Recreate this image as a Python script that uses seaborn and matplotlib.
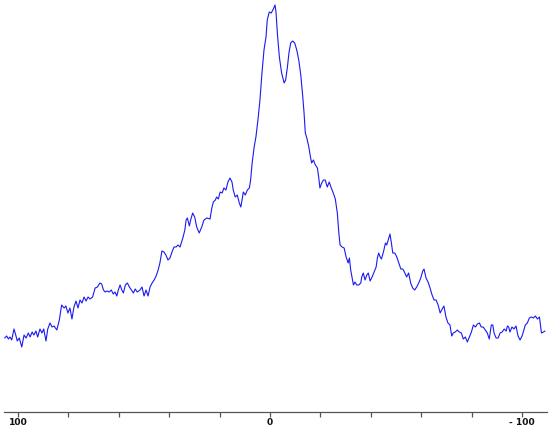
import matplotlib
matplotlib.use("Agg")
import matplotlib.pyplot as plt
import matplotlib.ticker as mticker
import seaborn as sns
import pandas as pd

# x position (data units, decreasing to the right) and intensity (arbitrary units)
shift = [
    105.3, 104.5, 103.8, 103.2, 102.5, 101.6, 100.9, 100.3, 99.5, 98.5,
    97.6, 96.8, 95.9, 95.2, 94.4, 93.7, 92.9, 92.2, 91.3, 90.5,
    89.8, 88.9, 88.2, 87.3, 86.5, 85.7, 84.6, 83.6, 82.7, 81.7,
    81.0, 80.2, 79.4, 78.6, 77.8, 77.0, 76.2, 75.4, 74.6, 73.8,
    73.0, 72.2, 71.4, 70.4, 69.4, 68.5, 67.5, 66.8, 66.1, 65.4,
    64.6, 63.8, 63.0, 62.2, 61.5, 60.8, 60.2, 59.5, 58.8, 58.2,
    57.4, 56.6, 55.8, 55.0, 54.2, 53.5, 52.7, 51.6, 50.8, 50.0,
    49.2, 48.4, 47.6, 46.8, 46.0, 45.2, 44.4, 43.7, 42.9, 42.1,
    41.3, 40.5, 39.7, 38.9, 38.1, 37.3, 36.5, 35.7, 34.6, 33.8,
    33.3, 32.8, 32.0, 31.5, 30.7, 29.9, 29.1, 28.1, 27.1, 26.2,
    25.1, 23.8, 23.1, 22.5, 21.7, 21.2, 20.5, 19.8, 19.0, 18.3,
    17.5, 16.7, 15.9, 15.1, 14.6, 13.8, 13.0, 12.2, 11.6, 11.1,
    10.6, 9.8, 9.0, 8.2, 7.7, 7.1, 6.3, 5.6, 4.8, 4.0,
    3.2, 2.4, 1.6, 1.1, 0.3, -0.5, -1.3, -2.0, -2.4, -2.9,
    -3.7, -4.6, -5.6, -6.2, -6.9, -7.5, -8.2, -9.0, -9.8, -10.6,
    -11.4, -12.2, -13.0, -13.5, -14.0, -14.6, -15.4, -15.9, -16.5, -17.2,
    -18.0, -18.8, -19.3, -19.8, -20.5, -21.2, -21.9, -22.7, -23.5, -24.3,
    -25.1, -25.9, -26.7, -27.3, -27.8, -28.6, -29.4, -30.2, -31.0, -31.5,
    -32.0, -32.5, -33.1, -33.7, -34.4, -35.2, -36.0, -36.4, -37.0, -37.7,
    -38.4, -39.0, -39.7, -40.5, -41.3, -42.1, -42.6, -43.1, -43.7, -44.2,
    -45.0, -45.8, -46.3, -46.9, -47.6, -48.1, -48.7, -49.5, -50.3, -51.1,
    -51.9, -52.7, -53.5, -54.2, -55.0, -55.8, -56.6, -57.4, -58.2, -59.0,
    -59.8, -60.6, -61.1, -61.9, -62.7, -63.5, -64.3, -65.1, -65.9, -66.7,
    -67.5, -68.3, -69.0, -69.8, -70.6, -71.4, -72.1, -72.7, -73.5, -74.3,
    -75.1, -75.9, -76.7, -77.5, -78.3, -79.1, -79.9, -80.7, -81.5, -82.3,
    -83.1, -83.8, -84.6, -85.4, -86.2, -87.0, -87.8, -88.4, -88.9, -89.7,
    -90.5, -91.3, -92.1, -92.9, -93.7, -94.2, -94.7, -95.2, -96.0, -96.8,
    -97.6, -98.4, -99.2, -100.0, -100.5, -101.3, -102.1, -102.9, -103.7, -104.5,
    -105.3, -106.1, -106.9, -107.7, -108.5, -109.1,
]
intensity = [
    75, 77, 74, 76, 73, 84, 78, 72, 75, 66,
    78, 75, 80, 76, 81, 78, 82, 76, 84, 80,
    84, 72, 84, 90, 86, 87, 83, 93, 108, 105,
    107, 100, 105, 94, 106, 112, 105, 113, 110, 116,
    112, 116, 114, 116, 125, 126, 130, 129, 123, 121,
    122, 121, 123, 119, 121, 117, 123, 128, 123, 120,
    128, 130, 126, 123, 120, 124, 121, 123, 126, 117,
    123, 117, 126, 130, 133, 137, 143, 150, 162, 161,
    158, 153, 155, 161, 166, 166, 168, 166, 175, 183,
    193, 195, 187, 193, 200, 196, 186, 180, 186, 193,
    195, 194, 205, 211, 213, 216, 214, 221, 220, 225,
    223, 231, 235, 231, 223, 216, 218, 210, 206, 213,
    221, 218, 223, 225, 233, 250, 266, 276, 293, 313,
    340, 363, 376, 393, 401, 400, 404, 408, 400, 380,
    356, 340, 330, 333, 346, 360, 370, 372, 370, 363,
    353, 338, 316, 300, 280, 275, 266, 258, 250, 253,
    248, 245, 236, 225, 230, 233, 233, 226, 231, 225,
    220, 214, 200, 180, 168, 166, 165, 156, 150, 155,
    143, 136, 128, 131, 128, 128, 130, 136, 140, 133,
    138, 140, 132, 136, 141, 146, 155, 160, 156, 154,
    161, 170, 168, 173, 179, 171, 160, 160, 156, 150,
    144, 144, 140, 136, 140, 130, 125, 123, 126, 130,
    135, 142, 144, 135, 131, 125, 118, 113, 113, 108,
    100, 104, 107, 96, 90, 88, 77, 80, 81, 83,
    81, 80, 74, 76, 71, 76, 81, 88, 86, 89,
    90, 86, 86, 83, 80, 74, 88, 88, 80, 75,
    75, 80, 81, 84, 82, 87, 86, 81, 86, 84,
    87, 77, 73, 77, 81, 88, 90, 95, 96, 95,
    97, 94, 96, 80, 81, 82,
]
major_ticks = [100, 0, -100]
major_labels = ["100", "0", "- 100"]
minor_ticks = [80, 60, 40, 20, -20, -40, -60, -80]

df = pd.DataFrame({"shift": shift, "intensity": intensity})

sns.set_style("white")
plt.rcParams["font.family"] = ["DejaVu Sans"]

fig = plt.figure(figsize=(5.5, 4.3), dpi=100)
ax = fig.add_axes([4 / 550, 18 / 430, 543 / 550, 412 / 430])

sns.lineplot(data=df, x="shift", y="intensity", ax=ax, sort=False,
             color="#1a1af0", linewidth=0.8, estimator=None)

ax.set_xlim(105.56, -109.9)
ax.set_ylim(1, 413)
ax.set_xlabel("")
ax.set_ylabel("")
ax.set_yticks([])
for s in ["top", "left", "right"]:
    ax.spines[s].set_visible(False)
ax.spines["bottom"].set_color("#555555")
ax.spines["bottom"].set_linewidth(0.9)

ax.xaxis.set_major_locator(mticker.FixedLocator(major_ticks))
ax.xaxis.set_major_formatter(mticker.FixedFormatter(major_labels))
ax.xaxis.set_minor_locator(mticker.FixedLocator(minor_ticks))
ax.tick_params(axis="x", which="both", direction="out", bottom=True,
               length=3.5, width=0.9, color="#555555", pad=1)
for lbl in ax.get_xticklabels():
    lbl.set_fontsize(6.6)
    lbl.set_fontweight("bold")
    lbl.set_color("#111111")

fig.savefig("out.png", dpi=100)
